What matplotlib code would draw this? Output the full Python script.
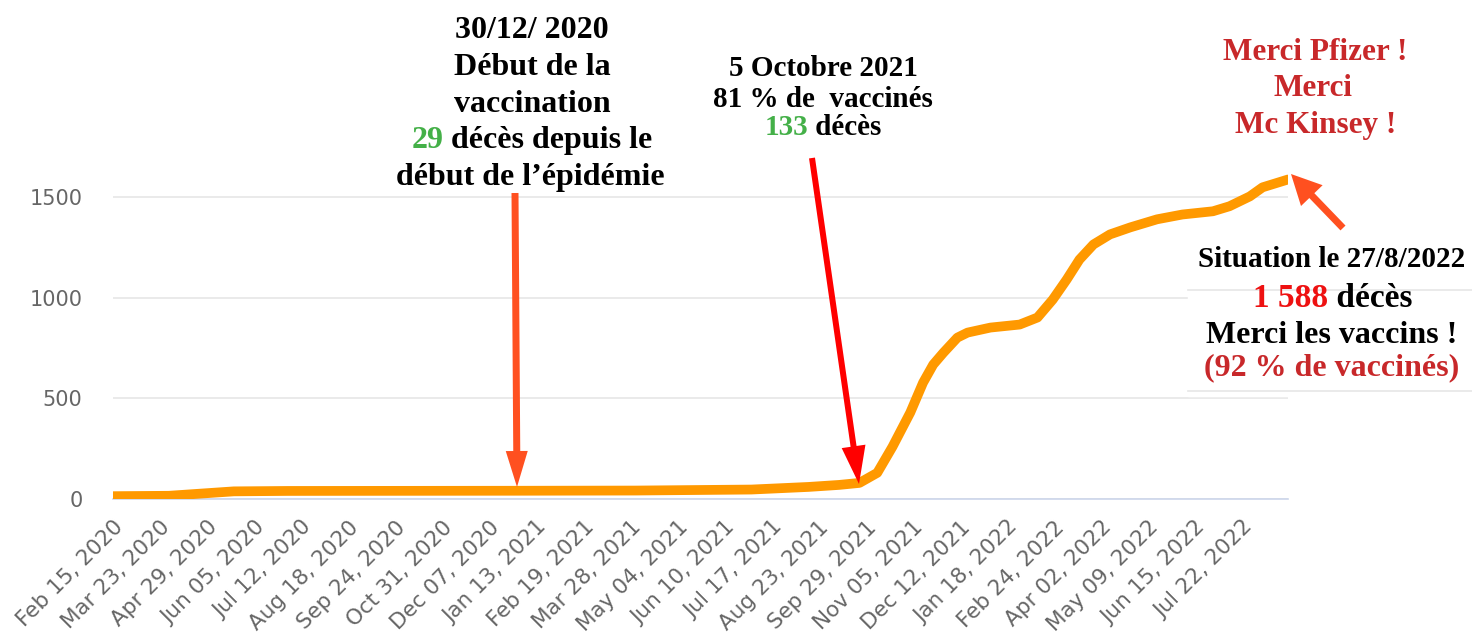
import numpy as np
import pandas as pd
import matplotlib
matplotlib.use("Agg")
import matplotlib.pyplot as plt
import matplotlib.dates as mdates
from matplotlib.patches import FancyArrow, Rectangle

# cumulative deaths
dates = ["2020-02-15", "2020-03-30", "2020-05-20", "2020-07-01", "2020-12-30",
         "2021-04-01", "2021-07-01", "2021-08-15", "2021-09-08", "2021-09-24",
         "2021-10-08", "2021-10-20", "2021-11-03", "2021-11-13", "2021-11-21",
         "2021-11-29", "2021-12-10", "2021-12-18", "2022-01-05", "2022-01-28",
         "2022-02-11", "2022-02-23", "2022-03-06", "2022-03-16", "2022-03-27",
         "2022-04-09", "2022-04-25", "2022-05-16", "2022-06-05", "2022-06-29",
         "2022-07-12", "2022-07-28", "2022-08-07", "2022-08-27"]
deces = [14, 16, 38, 40, 41,
         42, 47, 60, 70, 80,
         130, 260, 430, 578, 668,
         727, 802, 827, 852, 867,
         902, 991, 1091, 1190, 1265,
         1315, 1350, 1390, 1414, 1430,
         1455, 1504, 1549, 1588]

tick_dates = pd.date_range("2020-02-15", periods=25, freq="37D")
y_ticks = [0, 500, 1000, 1500]

W, H = 1472, 633
fig = plt.figure(figsize=(W / 100, H / 100), dpi=100)

# main chart
ax = fig.add_axes([113 / W, 1 - 499 / H, (1288 - 113) / W, (499 - 166) / H])
x = pd.to_datetime(dates)
ax.plot(x, deces, color="#ff9900", lw=7, solid_capstyle="round",
        solid_joinstyle="round", zorder=3)
ax.set_xlim(pd.Timestamp("2020-02-15"), pd.Timestamp("2022-08-27"))
ax.set_ylim(0, 1655)
ax.set_yticks(y_ticks)
ax.set_yticklabels([str(v) for v in y_ticks])
ax.set_xticks(tick_dates)
ax.set_xticklabels([d.strftime("%b %d, %Y") for d in tick_dates],
                   rotation=45, ha="right", va="top", rotation_mode="anchor")
ax.tick_params(axis="both", length=0, colors="#666666")
ax.tick_params(axis="y", labelsize=15, pad=22)
ax.tick_params(axis="x", labelsize=15.5, pad=13)
ax.grid(axis="y", color="#e6e6e6", lw=1.2)
ax.set_axisbelow(True)
for s in ["top", "right", "left"]:
    ax.spines[s].set_visible(False)
ax.spines["bottom"].set_color("#ccd6eb")
ax.spines["bottom"].set_linewidth(1.2)

# overlay in pixel coordinates for the annotations
ov = fig.add_axes([0, 0, 1, 1])
ov.set_xlim(0, W)
ov.set_ylim(H, 0)
ov.axis("off")
ov.patch.set_visible(False)

renderer = fig.canvas.get_renderer()
FONT = "Liberation Serif"


def width(s, size):
    t = ov.text(0, 0, s, fontsize=size, family=FONT, weight="bold")
    w = t.get_window_extent(renderer).width
    t.remove()
    return w


def line(xc, yb, parts, size):
    full = "".join(p[0] for p in parts)
    x0 = xc - width(full, size) / 2
    prefix = ""
    for txt, col in parts:
        off = width(prefix + "x", size) - width("x", size) if prefix else 0
        ov.text(x0 + off, yb, txt, fontsize=size, family=FONT, weight="bold",
                color=col, ha="left", va="baseline")
        prefix += txt


BLACK = "#000000"
GREEN = "#44b048"
DRED = "#c8282a"

# block 1
line(532, 38, [("30/12/ 2020", BLACK)], 23)
line(532, 75, [("Début de la", BLACK)], 23)
line(532, 112, [("vaccination", BLACK)], 23)
line(532, 148, [("29", GREEN), (" décès depuis le", BLACK)], 23)
line(530, 185, [("début de l\u2019épidémie", BLACK)], 23)

# block 2
line(823, 76, [("5 Octobre 2021", BLACK)], 21)
line(823, 107, [("81 % de  vaccinés", BLACK)], 21)
line(823, 135, [("133", GREEN), (" décès", BLACK)], 21)

# top right
line(1315, 60, [("Merci Pfizer !", DRED)], 22.5)
line(1313, 96, [("Merci", DRED)], 22.5)
line(1316, 133, [("Mc Kinsey !", DRED)], 22.5)

# right box (pasted over the grid)
ov.add_patch(Rectangle((1188, 236), W - 1188, 160, color="white", zorder=1))
ov.plot([1188, W], [290, 290], color="#e6e6e6", lw=1.2, zorder=1.5)
ov.plot([1188, W], [391, 391], color="#e6e6e6", lw=1.2, zorder=1.5)
line(1332, 267, [("Situation le 27/8/2022", BLACK)], 21)
line(1333, 307, [("1 588", "#ee1111"), (" décès", BLACK)], 24)
line(1332, 343, [("Merci les vaccins !", BLACK)], 23)
line(1332, 375, [("(92 % de vaccinés)", DRED)], 23)

# arrows
ov.add_patch(FancyArrow(515, 193, 2, 294, width=7, head_width=22, head_length=36,
                        length_includes_head=True, color="#ff5020", lw=0, zorder=4))
ov.add_patch(FancyArrow(812, 158, 47, 326, width=6, head_width=24, head_length=38,
                        length_includes_head=True, color="#ff0000", lw=0, zorder=4))
ov.add_patch(FancyArrow(1343, 228, -52, -54, width=7, head_width=30, head_length=30,
                        length_includes_head=True, color="#ff5020", lw=0, zorder=4))

fig.savefig("out.png", dpi=100)
plt.close(fig)
